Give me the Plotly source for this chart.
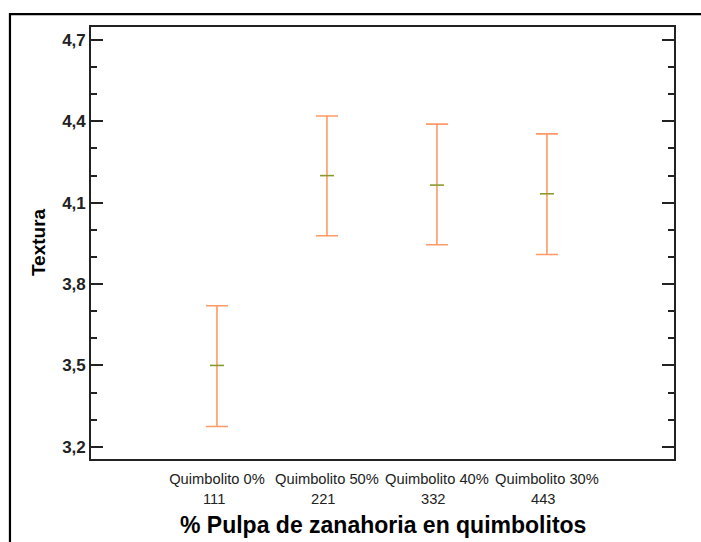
import plotly.graph_objects as go

categories = ["Quimbolito 0%", "Quimbolito 50%", "Quimbolito 40%", "Quimbolito 30%"]
codes = ["111", "221", "332", "443"]
means = [3.50, 4.20, 4.165, 4.133]
upper = [3.72, 4.42, 4.39, 4.354]
lower = [3.275, 3.978, 3.945, 3.909]
x_title = "% Pulpa de zanahoria en quimbolitos"
y_title = "Textura"

xpos = list(range(len(categories)))
err_plus = [u - m for u, m in zip(upper, means)]
err_minus = [m - l for m, l in zip(means, lower)]

ERR_COLOR = "#FF9A66"
MEAN_COLOR = "#8A9A2A"

fig = go.Figure()
fig.add_trace(go.Scatter(
    x=xpos, y=means, mode="markers",
    marker=dict(symbol="line-ew", size=10, color=MEAN_COLOR,
                line=dict(color=MEAN_COLOR, width=1.6)),
    error_y=dict(type="data", symmetric=False, array=err_plus, arrayminus=err_minus,
                 color=ERR_COLOR, thickness=1.6, width=11),
    showlegend=False, hoverinfo="skip",
))

for xi, c in zip(xpos, codes):
    fig.add_annotation(x=xi, y=0, xref="x", yref="paper", yanchor="middle",
                       text=c, showarrow=False, yshift=-40, xshift=-3,
                       font=dict(family="Liberation Sans, Arial", size=14.7, color="#222"))

# axis titles
fig.add_annotation(x=0.5, y=-0.153, xref="paper", yref="paper",
                   xanchor="center", yanchor="middle", showarrow=False,
                   text="<b>" + x_title + "</b>",
                   font=dict(family="Liberation Sans, Arial", size=23, color="black"))
fig.add_annotation(x=-0.091, y=0.502, xref="paper", yref="paper",
                   xanchor="center", yanchor="middle", showarrow=False, textangle=-90,
                   text="<b>" + y_title + "</b>",
                   font=dict(family="Liberation Sans, Arial", size=19, color="black"))

# outer frame
fig.add_shape(type="rect", xref="paper", yref="paper",
              x0=-0.139, x1=1.3, y0=-0.5, y1=1.030,
              line=dict(color="black", width=2.2))

fig.update_layout(
    width=701, height=542,
    margin=dict(l=91, r=27, t=27, b=83),
    paper_bgcolor="white", plot_bgcolor="white",
    separators=", ",
    font=dict(family="Liberation Sans, Arial", color="black"),
    xaxis=dict(
        range=[-1.145, 4.155], tickvals=xpos, ticktext=categories,
        ticks="", showgrid=False, zeroline=False, automargin=False,
        showline=True, linecolor="#222", linewidth=1.6, mirror=True,
        tickfont=dict(size=14.7, color="#222"), ticklabelstandoff=6,
    ),
    yaxis=dict(
        range=[3.155, 4.748], tick0=3.2, dtick=0.3, tickformat=".1f",
        ticks="inside", ticklen=12, tickwidth=1.6, tickcolor="#222",
        minor=dict(dtick=0.1, tick0=3.2, ticks="inside", ticklen=6,
                   tickwidth=1.6, tickcolor="#222", showgrid=False),
        showgrid=False, zeroline=False, automargin=False,
        showline=True, linecolor="#222", linewidth=1.6, mirror="ticks",
        tickfont=dict(size=17, color="#222", weight="bold"),
    ),
)

fig.write_html("out.html")
